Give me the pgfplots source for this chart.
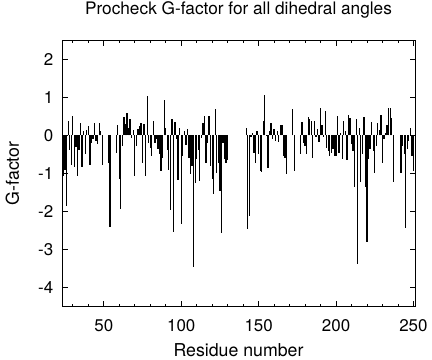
\documentclass[border=0pt]{standalone}
\usepackage{pgfplots}
\pgfplotsset{compat=1.18}
\usepackage{fontspec}
\setmainfont{TeX Gyre Heros}
\begin{document}
\begin{tikzpicture}
\path[use as bounding box] (0bp,0bp) rectangle (432bp,360bp);
\begin{axis}[
  at={(62bp,53.3bp)}, anchor=south west,
  scale only axis, width=353bp, height=266.7bp,
  xmin=23, xmax=251, ymin=-4.5, ymax=2.5,
  xtick={50,100,150,200,250}, xticklabels={50,100,150,200,250},
  minor xtick={30,40,60,70,80,90,110,120,130,140,160,170,180,190,210,220,230,240},
  ytick={-4,-3,-2,-1,0,1,2}, yticklabels={-4,-3,-2,-1,0,1,2},
  tick align=inside, major tick length=5.5bp, minor tick length=3bp,
  tick style={black, line width=0.8bp},
  axis line style={line width=0.9bp},
  xticklabel style={font=\fontsize{17}{20}\selectfont, anchor=center, inner sep=0pt, yshift=-19.3bp},
  yticklabel style={font=\fontsize{17}{20}\selectfont, anchor=east, inner sep=0pt, xshift=-8.5bp},
  title={Procheck G-factor for all dihedral angles},
  title style={at={(axis description cs:0.5,1.072)}, anchor=base, inner sep=0pt, font=\fontsize{17.3}{20}\selectfont},
  xlabel={Residue number},
  xlabel style={at={(axis description cs:0.5,-0.1624)}, anchor=center, inner sep=0pt, font=\fontsize{17.8}{20}\selectfont},
  ylabel={G-factor},
  ylabel style={at={(axis description cs:-0.1402,0.5)}, anchor=center, rotate=0, inner sep=0pt, font=\fontsize{17.8}{20}\selectfont},
]
\addplot[ycomb, black, line width=1.3bp, mark=none] table {
x y
24 -1.08
25 -0.9
26 -1.85
27 0.38
28 -0.4
29 -0.77
30 0.51
31 -0.83
32 -0.3
33 -1.08
34 -0.4
35 0.33
36 -0.83
37 0.11
38 -0.48
39 0.15
40 0.25
41 -0.77
42 -0.2
43 -0.1
44 0.33
45 -0.15
46 -0.24
47 0.31
48 0.12
49 -0.77
53 -0.72
54 -2.4
58 -0.46
59 0.27
60 -1.16
61 -1.94
62 -0.28
63 0.49
64 0.3
65 0.58
66 0.2
67 0.42
68 -0.06
69 0.14
70 -1.08
71 -0.28
72 0.16
73 0.23
74 0.33
75 -0.74
76 0.3
77 -1.08
78 1.04
79 -0.2
80 -0.33
81 -0.55
82 0.38
83 -0.2
84 -0.1
85 -0.37
86 -0.5
87 -0.94
88 -0.6
89 0.93
90 0.2
91 -0.38
92 -0.9
93 -1.96
94 0.42
95 -2.53
96 0.35
97 -0.1
98 -1.18
99 0.19
100 -2.33
101 -0.55
102 0.11
103 -0.25
104 0.16
105 -0.6
106 -1.03
107 -0.8
108 -3.47
109 -1.25
110 -0.63
111 -0.4
112 -1.2
113 -0.06
114 0.32
115 0.5
116 -0.72
117 -0.2
118 0.5
119 -0.81
120 -1.16
121 -1.54
122 0.69
123 -0.99
124 -0.72
125 -1.47
126 -2.56
127 -0.2
128 -0.63
129 -0.72
130 -0.65
142 0.18
143 -2.47
144 -2.13
145 -0.05
146 0.05
147 -0.46
148 -0.72
149 0.1
150 -0.5
151 -0.94
152 -0.97
153 0.38
154 1.06
155 -0.02
156 -0.86
157 0.1
158 0.32
159 -0.09
160 0.16
161 -0.15
162 0.11
163 -0.19
164 0.26
165 0.26
166 -0.55
167 -0.59
168 -1.03
172 0.69
173 -0.94
177 -0.48
178 0.35
179 -0.2
180 -0.28
181 -0.48
182 0.47
183 0.42
184 0.38
185 -0.59
186 0.38
187 -0.05
188 0.16
189 -0.19
190 0.72
191 0.28
192 -0.05
193 0.64
194 -0.33
195 -0.41
196 -0.55
197 -0.46
198 -0.37
199 -0.55
200 -0.55
201 0.51
202 -0.46
203 0.07
204 -0.63
205 0.38
206 0.11
207 -0.66
208 0.53
209 0.45
210 -0.24
211 -0.41
212 -1.36
213 0.42
214 -3.37
215 0.18
216 -1.23
217 -0.5
218 0.47
219 -1.36
220 -2.81
221 -0.63
222 -0.37
223 0.35
224 -0.41
225 -1.0
226 -0.28
227 0.33
228 0.15
229 0.53
230 -0.72
231 -0.1
232 0.05
233 0.26
234 0.71
235 0.71
236 0.44
237 -1.23
242 -1.0
243 -0.28
244 -0.48
245 -2.44
246 -0.37
247 -0.15
248 0.2
249 -0.55
250 -0.94
};
\end{axis}
\end{tikzpicture}
\end{document}
